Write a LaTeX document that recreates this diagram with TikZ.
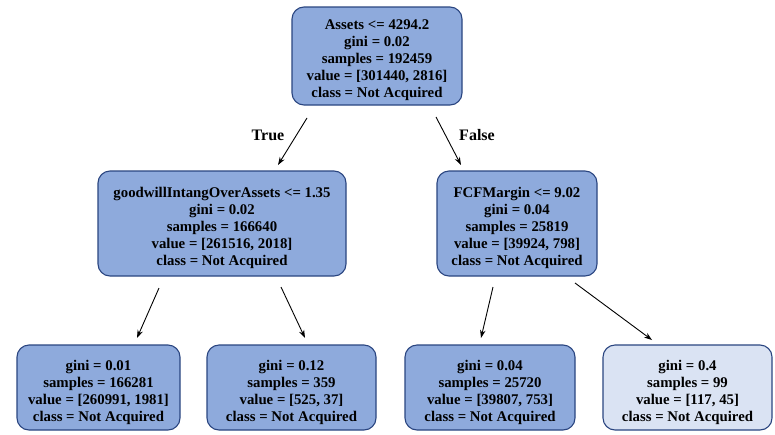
\documentclass[tikz,border=0pt]{standalone}
\usepackage{fontspec}
\setmainfont{Liberation Serif}
\usetikzlibrary{arrows.meta}
\definecolor{boxblue}{HTML}{8EAADC}
\definecolor{boxlight}{HTML}{DAE3F3}
\definecolor{boxedge}{HTML}{2A4580}
\tikzset{
  treenode/.style={draw=boxedge, line width=1.1pt, fill=boxblue, rounded corners=12pt, inner sep=0pt},
  lightnode/.style={treenode, fill=boxlight},
  treetext/.style={align=center, inner sep=0pt, yshift=-4.5pt, font=\bfseries\fontsize{14.8}{17}\selectfont},
  edgearrow/.style={line width=0.9pt, -{Stealth[length=8pt,width=5.5pt]}},
  edgelabel/.style={font=\bfseries\fontsize{16}{17}\selectfont}
}
\begin{document}
\begin{tikzpicture}[x=1pt,y=-1pt]
\useasboundingbox (0,0) rectangle (775,434);
\node[treenode, minimum width=170pt, minimum height=98pt] (root) at (377,56) {};
\node[treetext] (rootT) at (root.center)
  {Assets <= 4294.2\\gini = 0.02\\samples = 192459\\value = [301440, 2816]\\class = Not Acquired};
\node[treenode, minimum width=248pt, minimum height=105pt] (ml) at (222,223.5) {};
\node[treetext] (mlT) at (ml.center)
  {goodwillIntangOverAssets <= 1.35\\gini = 0.02\\samples = 166640\\value = [261516, 2018]\\class = Not Acquired};
\node[treenode, minimum width=160pt, minimum height=105pt] (mr) at (517,223.5) {};
\node[treetext] (mrT) at (mr.center)
  {FCFMargin <= 9.02\\gini = 0.04\\samples = 25819\\value = [39924, 798]\\class = Not Acquired};
\node[treenode, minimum width=163pt, minimum height=85pt] (b1) at (98.5,387.5) {};
\node[treetext] (b1T) at (b1.center)
  {gini = 0.01\\samples = 166281\\value = [260991, 1981]\\class = Not Acquired};
\node[treenode, minimum width=169pt, minimum height=85pt] (b2) at (291.5,387.5) {};
\node[treetext] (b2T) at (b2.center)
  {gini = 0.12\\samples = 359\\value = [525, 37]\\class = Not Acquired};
\node[treenode, minimum width=170pt, minimum height=85pt] (b3) at (490,387.5) {};
\node[treetext] (b3T) at (b3.center)
  {gini = 0.04\\samples = 25720\\value = [39807, 753]\\class = Not Acquired};
\node[lightnode, minimum width=169pt, minimum height=85pt] (b4) at (687.5,387.5) {};
\node[treetext] (b4T) at (b4.center)
  {gini = 0.4\\samples = 99\\value = [117, 45]\\class = Not Acquired};
% connector endpoints
\coordinate (rA) at (307,118); \coordinate (mlIn) at (278,165);
\coordinate (rB) at (436,117); \coordinate (mrIn) at (461,165);
\coordinate (mlA) at (159,288); \coordinate (b1In) at (137,338);
\coordinate (mlB) at (281,287); \coordinate (b2In) at (305,338);
\coordinate (mrA) at (493,287); \coordinate (b3In) at (481,338);
\coordinate (mrB) at (575,283); \coordinate (b4In) at (652,340);
\draw[edgearrow] (rA) -- (mlIn);
\draw[edgearrow] (rB) -- (mrIn);
\draw[edgearrow] (mlA) -- (b1In);
\draw[edgearrow] (mlB) -- (b2In);
\draw[edgearrow] (mrA) -- (b3In);
\draw[edgearrow] (mrB) -- (b4In);
\node[edgelabel] (tlab) at (268,135) {True};
\node[edgelabel] (flab) at (477,135) {False};
\end{tikzpicture}
\end{document}
